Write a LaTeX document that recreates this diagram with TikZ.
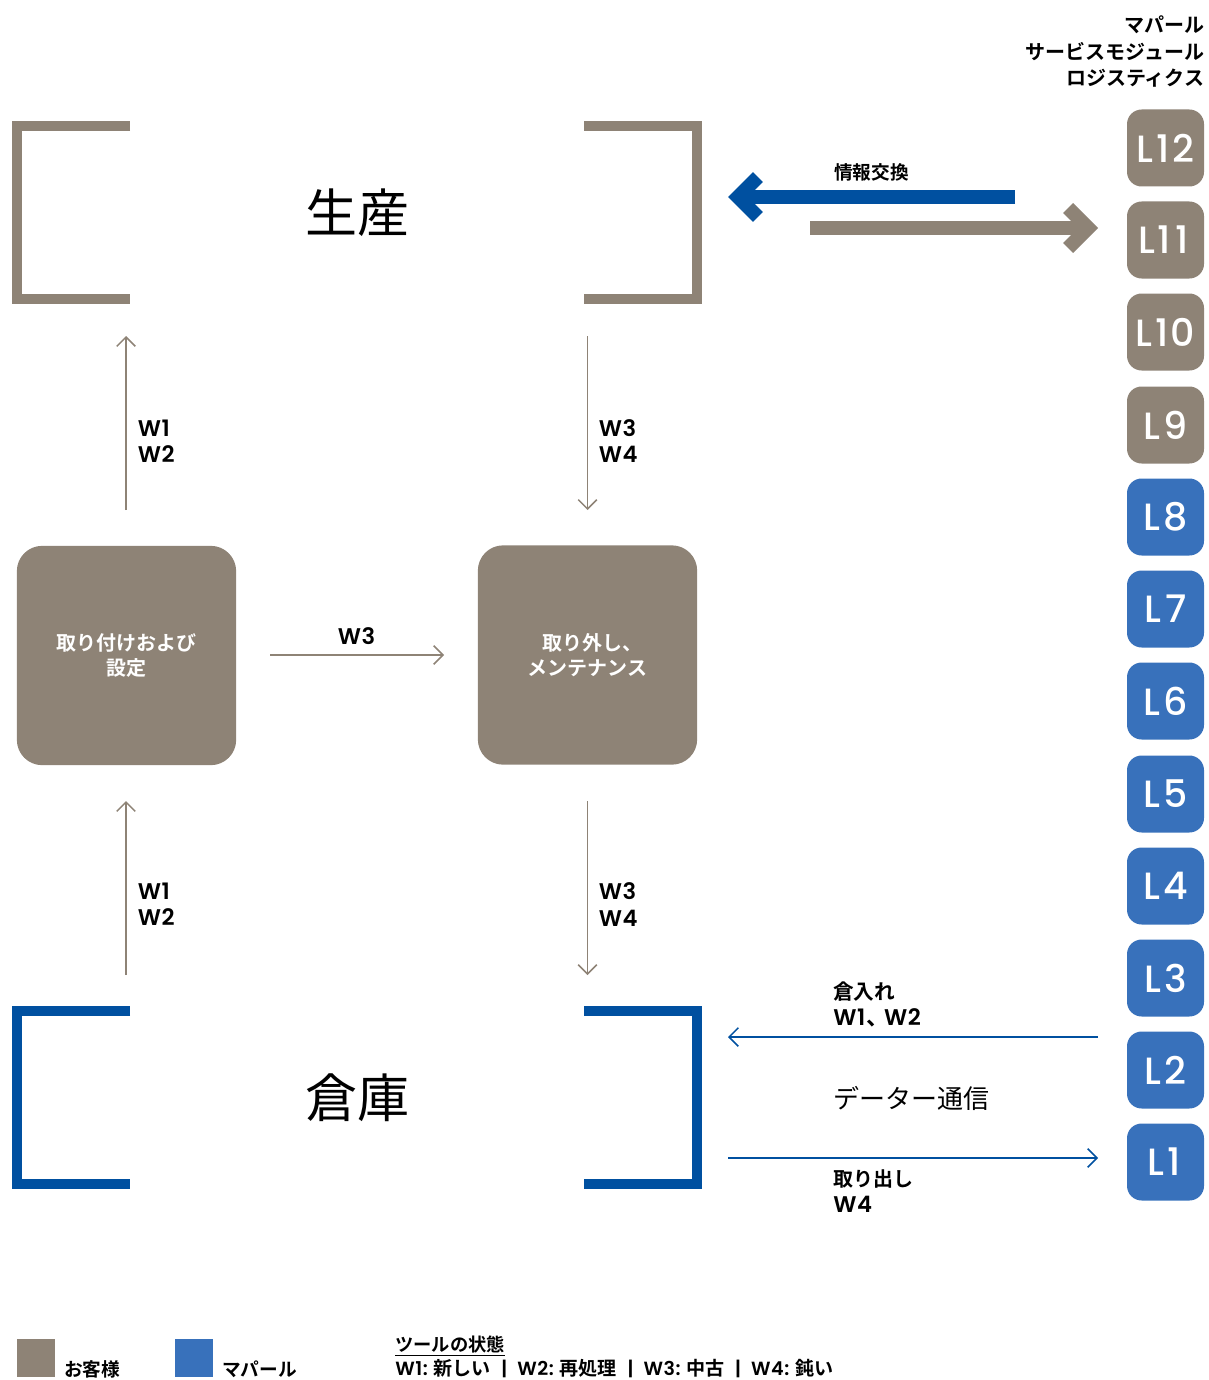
\documentclass[tikz,border=0pt]{standalone}
\usepackage{fontspec}
\usetikzlibrary{arrows.meta}
\setmainfont{Noto Sans CJK JP}
\newfontfamily\jpm{Noto Sans CJK JP Bold}
\newfontfamily\latm[Kerning=Off,LetterSpace=3]{Poppins SemiBold}
\newfontfamily\latr[Kerning=Off,LetterSpace=9]{Poppins Medium}
\newcommand\wt[1]{{\latm #1}}
\newcommand\barsep{\hspace{8pt}\wt{|}\hspace{7.5pt}}
\definecolor{taupe}{HTML}{8E8376}
\definecolor{deepblue}{HTML}{0050A0}
\definecolor{midblue}{HTML}{3871BB}
\tikzset{
  px/.style={x=0.75pt,y=-0.75pt},
  lbox/.style={fill=#1,text=white,minimum size=57.75pt,inner sep=0pt,rounded corners=11pt,font=\latr\fontsize{28.5}{30}\selectfont},
  bigbox/.style={fill=taupe,text=white,minimum size=164.5pt,inner sep=0pt,rounded corners=19pt,align=center,font=\jpm\fontsize{15}{18.75}\selectfont},
  bracket/.style={draw=#1,line width=7.5pt,line cap=butt,miter limit=10},
  thinarrow/.style={draw=#1,line width=1.1pt,-{Straight Barb[length=7pt,width=14pt,line width=1.1pt]}},
  fatarrow/.style={draw=#1,line width=10.5pt,-{Straight Barb[length=15pt,width=30pt]}},
  wlabel/.style={anchor=west,inner sep=0pt,align=left,font=\latm\fontsize{17}{19.8}\selectfont},
  blabel/.style={anchor=west,inner sep=0pt,align=left,font=\jpm\fontsize{15}{19.5}\selectfont},
  biglabel/.style={inner sep=0pt,font=\fontsize{39}{42}\selectfont},
  swatch/.style={fill=#1,minimum size=28.5pt,inner sep=0pt},
  smalllabel/.style={anchor=west,inner sep=0pt,font=\jpm\fontsize{14}{17}\selectfont},
}
\begin{document}
\begin{tikzpicture}[px]
\useasboundingbox (0,0) rectangle (1208,1380);
% header
\node[anchor=east,inner sep=0pt,align=right,font=\jpm\fontsize{15}{19.9}\selectfont] (hdr) at (1204.5,51.5) {マパール\\サービスモジュール\\ロジスティクス};
% L boxes
\node[lbox=taupe] (l12) at (1165.5,148) {L\kern2pt 1\kern2pt 2};
\node[lbox=taupe] (l11) at (1165.5,240) {L\kern2pt 1\kern3pt 1\kern3pt};
\node[lbox=taupe] (l10) at (1165.5,332) {L\kern2pt 1\kern1.5pt 0};
\node[lbox=taupe] (l9) at (1165.5,425) {L9};
\node[lbox=midblue] (l8) at (1165.5,517) {L8};
\node[lbox=midblue] (l7) at (1165.5,609) {L7};
\node[lbox=midblue] (l6) at (1165.5,701) {L6};
\node[lbox=midblue] (l5) at (1165.5,794) {L5};
\node[lbox=midblue] (l4) at (1165.5,886) {L4};
\node[lbox=midblue] (l3) at (1165.5,978) {L3};
\node[lbox=midblue] (l2) at (1165.5,1070) {L2};
\node[lbox=midblue] (l1) at (1165.5,1162) {L1\kern2pt};
% brackets
\draw[bracket=taupe] (130,126) -- (17,126) -- (17,299) -- (130,299);
\draw[bracket=taupe] (584,126) -- (697,126) -- (697,299) -- (584,299);
\draw[bracket=deepblue] (130,1011) -- (17,1011) -- (17,1184) -- (130,1184);
\draw[bracket=deepblue] (584,1011) -- (697,1011) -- (697,1184) -- (584,1184);
\node[biglabel] (prod) at (357,213) {生産};
\node[biglabel] (ware) at (357,1098) {倉庫};
% process boxes
\node[bigbox] (inst) at (126.5,655.5) {取り付けおよび\\設定};
\node[bigbox] (rem) at (587.5,655) {\hspace*{7pt}取り外し、\\メンテナンス};
% free ends
\coordinate (a1s) at (126,510); \coordinate (a1e) at (126,336);
\coordinate (a2s) at (587.5,336); \coordinate (a2e) at (587.5,510);
\coordinate (a3s) at (270,655); \coordinate (a3e) at (444,655);
\coordinate (a4s) at (126,975); \coordinate (a4e) at (126,801);
\coordinate (a5s) at (587.5,801); \coordinate (a5e) at (587.5,975);
\coordinate (a6s) at (1098,1037); \coordinate (a6e) at (728,1037);
\coordinate (a7s) at (728,1158); \coordinate (a7e) at (1098,1158);
\coordinate (f1s) at (1015,197); \coordinate (f1e) at (728,197);
\coordinate (f2s) at (810,228); \coordinate (f2e) at (1098,228);
% connectors
\draw[thinarrow=taupe] (a1s) -- (a1e);
\draw[thinarrow=taupe] (a2s) -- (a2e);
\draw[thinarrow=taupe] (a3s) -- (a3e);
\draw[thinarrow=taupe] (a4s) -- (a4e);
\draw[thinarrow=taupe] (a5s) -- (a5e);
\draw[thinarrow=deepblue] (a6s) -- (a6e);
\draw[thinarrow=deepblue] (a7s) -- (a7e);
\draw[fatarrow=deepblue] (f1s) -- (f1e);
\draw[fatarrow=taupe] (f2s) -- (f2e);
% labels
\node[wlabel] (w1) at (137.5,441) {W1\\W2};
\node[wlabel] (w2) at (598.5,441) {W3\\W4};
\node[wlabel] (w3) at (337.5,636) {W3};
\node[wlabel] (w4) at (137.5,904.5) {W1\\W2};
\node[wlabel] (w5) at (598.5,904.5) {W3\\W4};
\node[blabel,font=\jpm\fontsize{14}{17}\selectfont] (info) at (834,172) {情報交換};
\node[blabel] (in) at (833,1004.5) {\fontsize{15.5}{19.5}\selectfont 倉入れ\\\latm\fontsize{17}{19.5}\selectfont W1\kern1pt{\jpm 、\kern-4pt}W2};
\node[blabel] (out) at (833,1191.5) {取り出し\\\latm\fontsize{17}{19.5}\selectfont W4};
\node[anchor=west,inner sep=0pt,font=\fontsize{19.5}{22}\selectfont] (data) at (833,1098) {データー通信};
% legend
\node[swatch=taupe] (s1) at (36,1358) {};
\node[swatch=midblue] (s2) at (194,1358) {};
\node[smalllabel] (s1t) at (64,1369) {お客様};
\node[smalllabel] (s2t) at (222,1369) {マパール};
\node[smalllabel,font=\jpm\fontsize{13.7}{17}\selectfont] (st) at (395,1346) {\underline{ツールの状態}};
\node[smalllabel,font=\jpm\fontsize{14.3}{17}\selectfont] (wl) at (395,1368.5) {\wt{W1:} 新しい\barsep\wt{W2:} 再処理\barsep\wt{W3:} 中古\barsep\wt{W4:} 鈍い};
\end{tikzpicture}
\end{document}
